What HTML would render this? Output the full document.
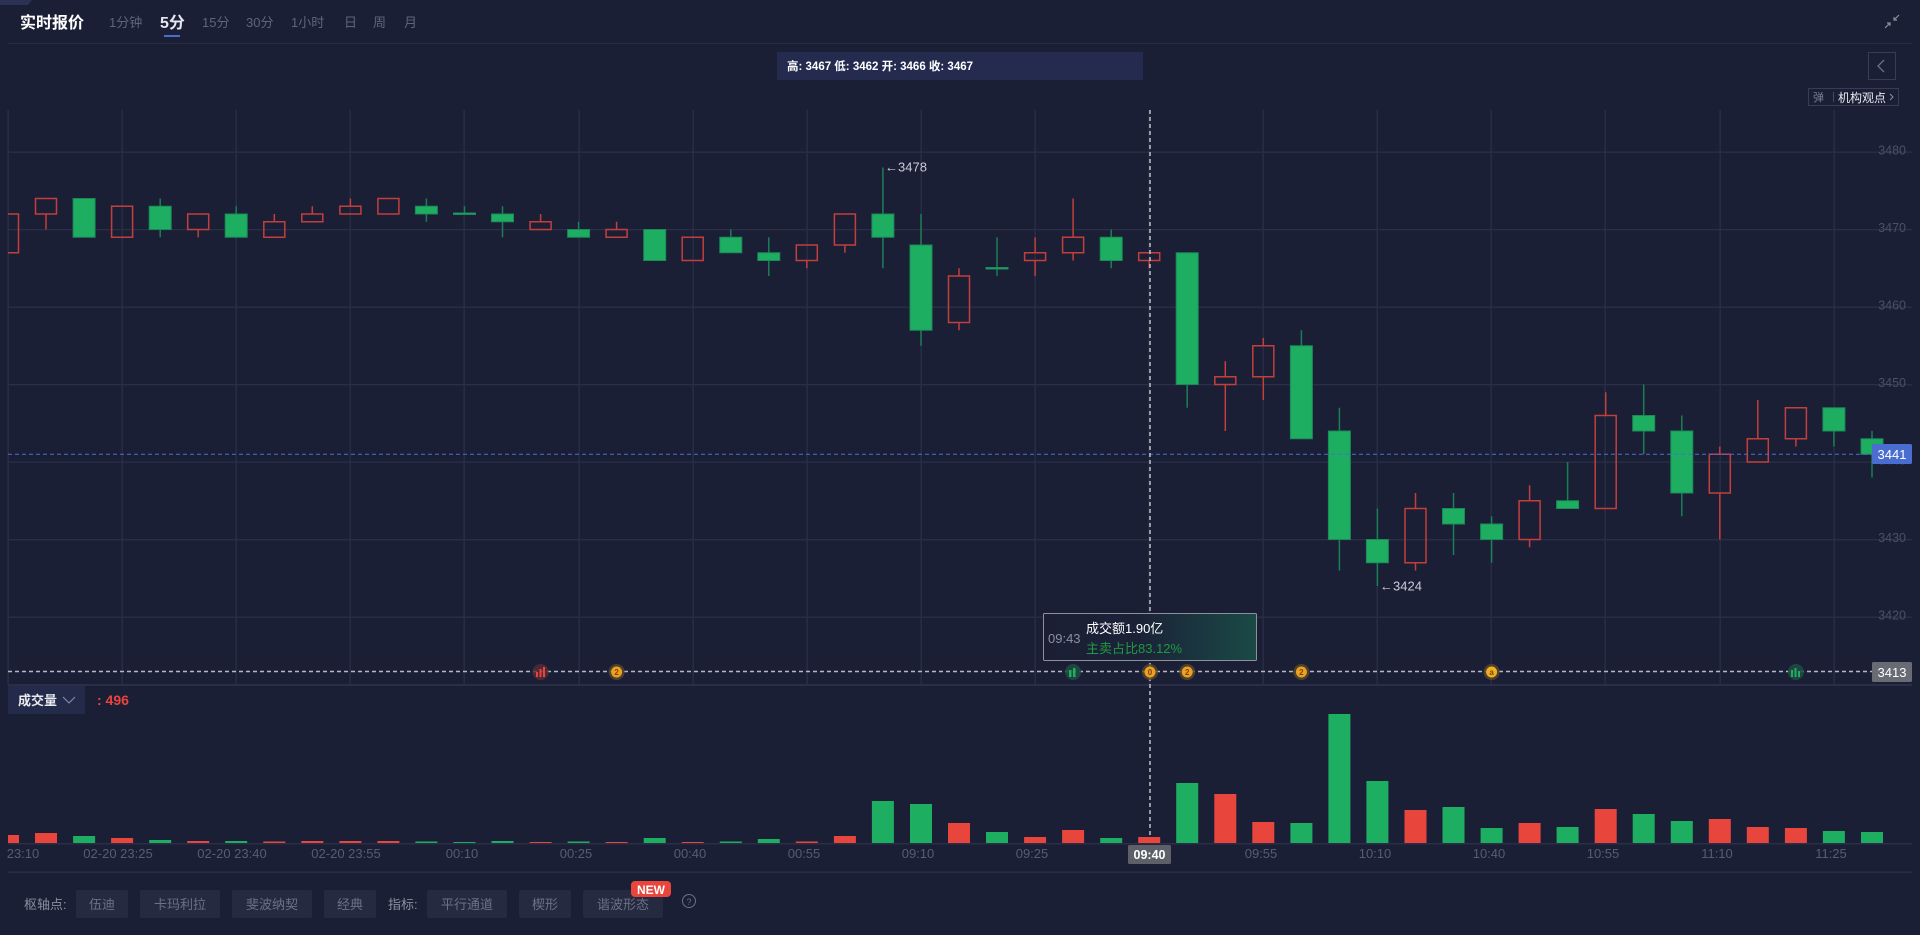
<!DOCTYPE html>
<html><head><meta charset="utf-8"><style>
html,body{margin:0;padding:0;background:#1b1f36;}
svg{display:block;}
text{font-family:"Liberation Sans","Noto Sans CJK SC",sans-serif;}
</style></head><body>
<svg width="1920" height="935" viewBox="0 0 1920 935" xmlns="http://www.w3.org/2000/svg">
<defs>
<clipPath id="cp"><rect x="8" y="110" width="1904" height="575"/></clipPath>
<clipPath id="cv"><rect x="8" y="714" width="1904" height="130"/></clipPath>
<linearGradient id="tg" x1="0" y1="0" x2="1" y2="0"><stop offset="0" stop-color="#1b1f36"/><stop offset="0.45" stop-color="#1b2238"/><stop offset="1" stop-color="#1a4a45"/></linearGradient>
</defs>
<rect x="0" y="0" width="1920" height="935" fill="#1b1f36"/>
<polygon points="0,0 32,0 28,5 0,5" fill="#2a3152"/>

<!-- header -->
<text x="20" y="28" font-size="16" font-weight="bold" fill="#ffffff">实时报价</text>
<g font-size="13" fill="#5f6479">
<text x="109" y="27">1分钟</text>
<text x="202" y="27">15分</text>
<text x="246" y="27">30分</text>
<text x="291" y="27">1小时</text>
<text x="344" y="27">日</text>
<text x="373" y="27">周</text>
<text x="404" y="27">月</text>
</g>
<text x="160" y="28" font-size="16" font-weight="bold" fill="#e6e8f0">5分</text>
<rect x="164" y="35" width="16" height="2" fill="#4a6ed0"/>
<g stroke="#8a8fa0" stroke-width="1.2" fill="none">
<path d="M1885,28 L1890,23 M1887,23 L1890,23 L1890,26"/>
<path d="M1899,15 L1894,20 M1894,17 L1894,20 L1897,20"/>
</g>
<rect x="8" y="43" width="1904" height="1" fill="#262b42"/>

<!-- OHLC box -->
<rect x="777" y="52" width="366" height="28" fill="#242b4f"/>
<text x="787" y="70" font-size="11.5" font-weight="bold" fill="#ffffff">高: 3467 低: 3462 开: 3466 收: 3467</text>

<!-- top right buttons -->
<rect x="1868.5" y="52.5" width="27" height="27" fill="none" stroke="#383d55" stroke-width="1"/>
<path d="M1884,60 L1878,66 L1884,72" fill="none" stroke="#6b7086" stroke-width="1.3"/>
<rect x="1808.5" y="88.5" width="90" height="17" fill="none" stroke="#383d55" stroke-width="1"/>
<text x="1813" y="101" font-size="11" fill="#7a7f92">弹</text>
<rect x="1833" y="92" width="1" height="10" fill="#444a60"/>
<text x="1838" y="102" font-size="12" fill="#e8eaf0">机构观点</text>
<path d="M1890,94 L1893,97 L1890,100" fill="none" stroke="#8a8fa0" stroke-width="1"/>

<!-- grid -->
<g fill="#2a2f47">
<rect x="7.5" y="110" width="1.3" height="575"/>
<rect x="121.5" y="110" width="1.3" height="575"/>
<rect x="235.5" y="110" width="1.3" height="575"/>
<rect x="349.5" y="110" width="1.3" height="575"/>
<rect x="463.5" y="110" width="1.3" height="575"/>
<rect x="578.5" y="110" width="1.3" height="575"/>
<rect x="692.5" y="110" width="1.3" height="575"/>
<rect x="806.5" y="110" width="1.3" height="575"/>
<rect x="920.5" y="110" width="1.3" height="575"/>
<rect x="1034.5" y="110" width="1.3" height="575"/>
<rect x="1148.5" y="110" width="1.3" height="575"/>
<rect x="1262.5" y="110" width="1.3" height="575"/>
<rect x="1376.5" y="110" width="1.3" height="575"/>
<rect x="1490.5" y="110" width="1.3" height="575"/>
<rect x="1604.5" y="110" width="1.3" height="575"/>
<rect x="1719.5" y="110" width="1.3" height="575"/>
<rect x="1833.5" y="110" width="1.3" height="575"/>
<rect x="8" y="151.5" width="1904" height="1.3"/>
<rect x="8" y="229" width="1904" height="1.3"/>
<rect x="8" y="306.5" width="1904" height="1.3"/>
<rect x="8" y="384" width="1904" height="1.3"/>
<rect x="8" y="461.5" width="1904" height="1.3"/>
<rect x="8" y="539" width="1904" height="1.3"/>
<rect x="8" y="616.5" width="1904" height="1.3"/>
<rect x="8" y="684" width="1904" height="2"/>
<rect x="8" y="843" width="1904" height="1.5"/>
<rect x="8" y="871.5" width="1904" height="1.3"/>
</g>

<!-- price labels -->
<g font-size="12.5" fill="#4b5068" text-anchor="end">
<text x="1906" y="154.5">3480</text>
<text x="1906" y="232">3470</text>
<text x="1906" y="309.5">3460</text>
<text x="1906" y="387">3450</text>
<text x="1906" y="464.5">3440</text>
<text x="1906" y="542">3430</text>
<text x="1906" y="619.5">3420</text>
</g>

<!-- candles -->
<g clip-path="url(#cp)">
<g stroke="#1b7f55" stroke-width="1.5">
<line x1="160.2" y1="198.5" x2="160.2" y2="237.25"/>
<line x1="236.2" y1="206.25" x2="236.2" y2="237.25"/>
<line x1="426.4" y1="198.5" x2="426.4" y2="221.75"/>
<line x1="464.5" y1="206.25" x2="464.5" y2="214"/>
<line x1="502.5" y1="206.25" x2="502.5" y2="237.25"/>
<line x1="578.6" y1="221.75" x2="578.6" y2="237.25"/>
<line x1="730.8" y1="229.5" x2="730.8" y2="252.75"/>
<line x1="768.8" y1="237.25" x2="768.8" y2="276"/>
<line x1="882.9" y1="167.5" x2="882.9" y2="268.25"/>
<line x1="921" y1="214" x2="921" y2="345.75"/>
<line x1="997" y1="237.25" x2="997" y2="276"/>
<line x1="1111.2" y1="229.5" x2="1111.2" y2="268.25"/>
<line x1="1187.2" y1="252.75" x2="1187.2" y2="407.75"/>
<line x1="1301.4" y1="330.25" x2="1301.4" y2="438.75"/>
<line x1="1339.4" y1="407.75" x2="1339.4" y2="570.5"/>
<line x1="1377.4" y1="508.5" x2="1377.4" y2="586"/>
<line x1="1453.5" y1="493" x2="1453.5" y2="555"/>
<line x1="1491.6" y1="516.25" x2="1491.6" y2="562.75"/>
<line x1="1567.6" y1="462" x2="1567.6" y2="508.5"/>
<line x1="1643.7" y1="384.5" x2="1643.7" y2="454.25"/>
<line x1="1681.8" y1="415.5" x2="1681.8" y2="516.25"/>
<line x1="1833.9" y1="407.75" x2="1833.9" y2="446.5"/>
<line x1="1872" y1="431" x2="1872" y2="477.5"/>
</g>
<g fill="#1dae62" stroke="#1b8a58" stroke-width="1">
<rect x="73.1" y="198.5" width="22" height="38.75"/>
<rect x="149.2" y="206.25" width="22" height="23.25"/>
<rect x="225.2" y="214" width="22" height="23.25"/>
<rect x="415.4" y="206.25" width="22" height="7.75"/>
<rect x="453.5" y="213" width="22" height="1.5"/>
<rect x="491.5" y="214" width="22" height="7.75"/>
<rect x="567.6" y="229.5" width="22" height="7.75"/>
<rect x="643.7" y="229.5" width="22" height="31"/>
<rect x="719.8" y="237.25" width="22" height="15.5"/>
<rect x="757.8" y="252.75" width="22" height="7.75"/>
<rect x="871.9" y="214" width="22" height="23.25"/>
<rect x="910" y="245" width="22" height="85.25"/>
<rect x="986" y="267.5" width="22" height="1.5"/>
<rect x="1100.2" y="237.25" width="22" height="23.25"/>
<rect x="1176.2" y="252.75" width="22" height="131.75"/>
<rect x="1290.4" y="345.75" width="22" height="93"/>
<rect x="1328.4" y="431" width="22" height="108.5"/>
<rect x="1366.4" y="539.5" width="22" height="23.25"/>
<rect x="1442.5" y="508.5" width="22" height="15.5"/>
<rect x="1480.6" y="524" width="22" height="15.5"/>
<rect x="1556.6" y="500.75" width="22" height="7.75"/>
<rect x="1632.7" y="415.5" width="22" height="15.5"/>
<rect x="1670.8" y="431" width="22" height="62"/>
<rect x="1822.9" y="407.75" width="22" height="23.25"/>
<rect x="1861" y="438.75" width="22" height="15.5"/>
</g>
<g stroke="#c23f3c" stroke-width="1.5" fill="none">
<rect x="-2.5" y="214" width="21" height="38.75"/>
<rect x="35.5" y="198.5" width="21" height="15.5"/><line x1="46" y1="214" x2="46" y2="229.5"/>
<rect x="111.6" y="206.25" width="21" height="31"/>
<rect x="187.7" y="214" width="21" height="15.5"/><line x1="198.2" y1="229.5" x2="198.2" y2="237.25"/>
<rect x="263.8" y="221.75" width="21" height="15.5"/><line x1="274.3" y1="214" x2="274.3" y2="221.75"/>
<rect x="301.8" y="214" width="21" height="7.75"/><line x1="312.3" y1="206.25" x2="312.3" y2="214"/>
<rect x="339.9" y="206.25" width="21" height="7.75"/><line x1="350.4" y1="198.5" x2="350.4" y2="206.25"/>
<rect x="377.9" y="198.5" width="21" height="15.5"/>
<rect x="530.1" y="221.75" width="21" height="7.75"/><line x1="540.6" y1="214" x2="540.6" y2="221.75"/>
<rect x="606.1" y="229.5" width="21" height="7.75"/><line x1="616.6" y1="221.75" x2="616.6" y2="229.5"/>
<rect x="682.2" y="237.25" width="21" height="23.25"/>
<rect x="796.3" y="245" width="21" height="15.5"/><line x1="806.8" y1="260.5" x2="806.8" y2="268.25"/>
<rect x="834.4" y="214" width="21" height="31"/><line x1="844.9" y1="245" x2="844.9" y2="252.75"/>
<rect x="948.5" y="276" width="21" height="46.5"/><line x1="959" y1="268.25" x2="959" y2="276"/><line x1="959" y1="322.5" x2="959" y2="330.25"/>
<rect x="1024.6" y="252.75" width="21" height="7.75"/><line x1="1035.1" y1="237.25" x2="1035.1" y2="252.75"/><line x1="1035.1" y1="260.5" x2="1035.1" y2="276"/>
<rect x="1062.6" y="237.25" width="21" height="15.5"/><line x1="1073.1" y1="198.5" x2="1073.1" y2="237.25"/><line x1="1073.1" y1="252.75" x2="1073.1" y2="260.5"/>
<rect x="1138.7" y="252.75" width="21" height="7.75"/><line x1="1149.2" y1="260.5" x2="1149.2" y2="268.25"/>
<rect x="1214.8" y="376.75" width="21" height="7.75"/><line x1="1225.3" y1="361.25" x2="1225.3" y2="376.75"/><line x1="1225.3" y1="384.5" x2="1225.3" y2="431"/>
<rect x="1252.8" y="345.75" width="21" height="31"/><line x1="1263.3" y1="338" x2="1263.3" y2="345.75"/><line x1="1263.3" y1="376.75" x2="1263.3" y2="400"/>
<rect x="1405" y="508.5" width="21" height="54.25"/><line x1="1415.5" y1="493" x2="1415.5" y2="508.5"/><line x1="1415.5" y1="562.75" x2="1415.5" y2="570.5"/>
<rect x="1519.1" y="500.75" width="21" height="38.75"/><line x1="1529.6" y1="485.25" x2="1529.6" y2="500.75"/><line x1="1529.6" y1="539.5" x2="1529.6" y2="547.25"/>
<rect x="1595.2" y="415.5" width="21" height="93"/><line x1="1605.7" y1="392.25" x2="1605.7" y2="415.5"/>
<rect x="1709.3" y="454.25" width="21" height="38.75"/><line x1="1719.8" y1="446.5" x2="1719.8" y2="454.25"/><line x1="1719.8" y1="493" x2="1719.8" y2="539.5"/>
<rect x="1747.3" y="438.75" width="21" height="23.25"/><line x1="1757.8" y1="400" x2="1757.8" y2="438.75"/>
<rect x="1785.4" y="407.75" width="21" height="31"/><line x1="1795.9" y1="438.75" x2="1795.9" y2="446.5"/>
</g>
</g>

<!-- annotations -->
<g font-size="13" fill="#c8ccd6">
<text x="885" y="171.5">←3478</text>
<text x="1380" y="590.5">←3424</text>
</g>

<!-- current price line -->
<line x1="8" y1="454.25" x2="1872" y2="454.25" stroke="#4a6ed0" stroke-width="1" stroke-dasharray="4,3"/>
<rect x="1872" y="444" width="40" height="20" rx="1.5" fill="#4a6ed0"/>
<text x="1892" y="459" font-size="13" fill="#ffffff" text-anchor="middle">3441</text>

<!-- 3413 line -->
<line x1="8" y1="671.5" x2="1872" y2="671.5" stroke="#b5b8c2" stroke-width="1.5" stroke-dasharray="4,3"/>
<rect x="1872" y="662" width="40" height="20" rx="1.5" fill="#686b74"/>
<text x="1892" y="677" font-size="13" fill="#ffffff" text-anchor="middle">3413</text>

<!-- crosshair -->
<line x1="1150" y1="110" x2="1150" y2="845" stroke="#c0c3cc" stroke-width="1.5" stroke-dasharray="4,3"/>

<!-- markers -->
<g>
<circle cx="540.6" cy="672" r="8" fill="#5a2a36" opacity="0.8"/>
<rect x="536" y="672" width="2" height="5" fill="#e8453c"/><rect x="539.5" y="669" width="2" height="8" fill="#e8453c"/><rect x="543" y="667" width="2" height="10" fill="#e8453c"/>
<circle cx="616.6" cy="672" r="8" fill="#5a4a2a" opacity="0.8"/><circle cx="616.6" cy="672" r="5.5" fill="#f0a020"/>
<circle cx="1073.1" cy="672" r="8" fill="#1f4a40" opacity="0.9"/>
<rect x="1069" y="670" width="2.5" height="7" fill="#1dae62"/><rect x="1073" y="668" width="2.5" height="9" fill="#1dae62"/>
<circle cx="1150" cy="672" r="8" fill="#5a4a2a" opacity="0.8"/><circle cx="1150" cy="672" r="5.5" fill="#f0a020"/>
<circle cx="1187.2" cy="672" r="8" fill="#5a4a2a" opacity="0.8"/><circle cx="1187.2" cy="672" r="5.5" fill="#f0a020"/>
<circle cx="1301.4" cy="672" r="8" fill="#5a4a2a" opacity="0.8"/><circle cx="1301.4" cy="672" r="5.5" fill="#f0a020"/>
<circle cx="1491.6" cy="672" r="8" fill="#5a4a2a" opacity="0.8"/><circle cx="1491.6" cy="672" r="5.5" fill="#f0b020"/>
<circle cx="1795.9" cy="672" r="8" fill="#1f4a40" opacity="0.9"/>
<rect x="1791" y="670" width="2" height="7" fill="#1dae62"/><rect x="1794.5" y="668" width="2" height="9" fill="#1dae62"/><rect x="1798" y="671" width="2" height="6" fill="#1dae62"/>
</g>
<g font-size="8" font-weight="bold" fill="#6a4a10" text-anchor="middle">
<text x="616.6" y="675">2</text><text x="1150" y="675">0</text><text x="1187.2" y="675">2</text><text x="1301.4" y="675">2</text><text x="1491.6" y="675">a</text>
</g>

<!-- volume tooltip -->
<rect x="1043.5" y="613.5" width="213" height="47" fill="url(#tg)" stroke="#8d919e" stroke-width="1" rx="1"/>
<text x="1048" y="643" font-size="13" fill="#8a90a2">09:43</text>
<text x="1086" y="633" font-size="13" fill="#ffffff">成交额1.90亿</text>
<text x="1086" y="653" font-size="13" fill="#1f9a3f">主卖占比83.12%</text>

<!-- volume header -->
<rect x="8" y="686" width="77" height="28" fill="#232a4a"/>
<text x="18" y="705" font-size="13" font-weight="bold" fill="#e8eaf0">成交量</text>
<path d="M63,697 L69,703 L75,697" fill="none" stroke="#8a8fa0" stroke-width="1.1"/>
<text x="97" y="705" font-size="14" font-weight="bold" fill="#e8453c">: 496</text>

<!-- volume bars -->
<g clip-path="url(#cv)">
<g fill="#e8453c">
<rect x="-3" y="835" width="22" height="8"/>
<rect x="35" y="833" width="22" height="10"/>
<rect x="111.1" y="838" width="22" height="5"/>
<rect x="187.2" y="841" width="22" height="2"/>
<rect x="263.3" y="841.5" width="22" height="1.5"/>
<rect x="301.3" y="841" width="22" height="2"/>
<rect x="339.4" y="841" width="22" height="2"/>
<rect x="377.4" y="841" width="22" height="2"/>
<rect x="529.6" y="842" width="22" height="1"/>
<rect x="605.6" y="842" width="22" height="1"/>
<rect x="681.7" y="842" width="22" height="1"/>
<rect x="795.8" y="841.5" width="22" height="1.5"/>
<rect x="833.9" y="836" width="22" height="7"/>
<rect x="948" y="823" width="22" height="20"/>
<rect x="1024.1" y="837" width="22" height="6"/>
<rect x="1062.1" y="830" width="22" height="13"/>
<rect x="1138.2" y="837" width="22" height="6"/>
<rect x="1214.3" y="794" width="22" height="49"/>
<rect x="1252.3" y="822" width="22" height="21"/>
<rect x="1404.5" y="810" width="22" height="33"/>
<rect x="1518.6" y="823" width="22" height="20"/>
<rect x="1594.7" y="809" width="22" height="34"/>
<rect x="1708.8" y="819" width="22" height="24"/>
<rect x="1746.8" y="827" width="22" height="16"/>
<rect x="1784.9" y="828" width="22" height="15"/>
</g>
<g fill="#1dae62">
<rect x="73.1" y="836" width="22" height="7"/>
<rect x="149.2" y="840" width="22" height="3"/>
<rect x="225.2" y="841" width="22" height="2"/>
<rect x="415.4" y="841.5" width="22" height="1.5"/>
<rect x="453.5" y="842" width="22" height="1"/>
<rect x="491.5" y="841" width="22" height="2"/>
<rect x="567.6" y="841.5" width="22" height="1.5"/>
<rect x="643.7" y="838" width="22" height="5"/>
<rect x="719.8" y="841.5" width="22" height="1.5"/>
<rect x="757.8" y="839" width="22" height="4"/>
<rect x="871.9" y="801" width="22" height="42"/>
<rect x="910" y="804" width="22" height="39"/>
<rect x="986" y="832" width="22" height="11"/>
<rect x="1100.2" y="838" width="22" height="5"/>
<rect x="1176.2" y="783" width="22" height="60"/>
<rect x="1290.4" y="823" width="22" height="20"/>
<rect x="1328.4" y="713" width="22" height="130"/>
<rect x="1366.4" y="781" width="22" height="62"/>
<rect x="1442.5" y="807" width="22" height="36"/>
<rect x="1480.6" y="828" width="22" height="15"/>
<rect x="1556.6" y="827" width="22" height="16"/>
<rect x="1632.7" y="814" width="22" height="29"/>
<rect x="1670.8" y="821" width="22" height="22"/>
<rect x="1822.9" y="831" width="22" height="12"/>
<rect x="1861" y="832" width="22" height="11"/>
</g>
</g>

<!-- x axis labels -->
<g font-size="13" fill="#565c74" text-anchor="middle">
<text x="23" y="858">23:10</text>
<text x="118" y="858">02-20 23:25</text>
<text x="232" y="858">02-20 23:40</text>
<text x="346" y="858">02-20 23:55</text>
<text x="462" y="858">00:10</text>
<text x="576" y="858">00:25</text>
<text x="690" y="858">00:40</text>
<text x="804" y="858">00:55</text>
<text x="918" y="858">09:10</text>
<text x="1032" y="858">09:25</text>
<text x="1261" y="858">09:55</text>
<text x="1375" y="858">10:10</text>
<text x="1489" y="858">10:40</text>
<text x="1603" y="858">10:55</text>
<text x="1717" y="858">11:10</text>
<text x="1831" y="858">11:25</text>
</g>
<rect x="1128" y="845" width="43" height="19" rx="1.5" fill="#5d6068"/>
<text x="1149.5" y="859" font-size="12.5" font-weight="bold" fill="#ffffff" text-anchor="middle">09:40</text>

<!-- bottom toolbar -->
<text x="24" y="909" font-size="13" fill="#8a8fa0">枢轴点:</text>
<g fill="#252a40">
<rect x="76" y="890" width="52" height="28" rx="2"/>
<rect x="140" y="890" width="80" height="28" rx="2"/>
<rect x="232" y="890" width="80" height="28" rx="2"/>
<rect x="324" y="890" width="52" height="28" rx="2"/>
<rect x="427" y="890" width="80" height="28" rx="2"/>
<rect x="519" y="890" width="52" height="28" rx="2"/>
<rect x="583" y="890" width="80" height="28" rx="2"/>
</g>
<g font-size="13" fill="#6b7186" text-anchor="middle">
<text x="102" y="909">伍迪</text>
<text x="180" y="909">卡玛利拉</text>
<text x="272" y="909">斐波纳契</text>
<text x="350" y="909">经典</text>
<text x="467" y="909">平行通道</text>
<text x="545" y="909">楔形</text>
<text x="623" y="909">谐波形态</text>
</g>
<text x="388" y="909" font-size="13" fill="#8a8fa0">指标:</text>
<rect x="631" y="881" width="40" height="16" rx="4" fill="#e8453c"/>
<text x="651" y="894" font-size="12" font-weight="bold" fill="#ffffff" text-anchor="middle">NEW</text>
<circle cx="689" cy="901" r="6.5" fill="none" stroke="#6b7086" stroke-width="1"/>
<text x="689" y="905" font-size="9" fill="#6b7086" text-anchor="middle">?</text>
</svg>
</body></html>
